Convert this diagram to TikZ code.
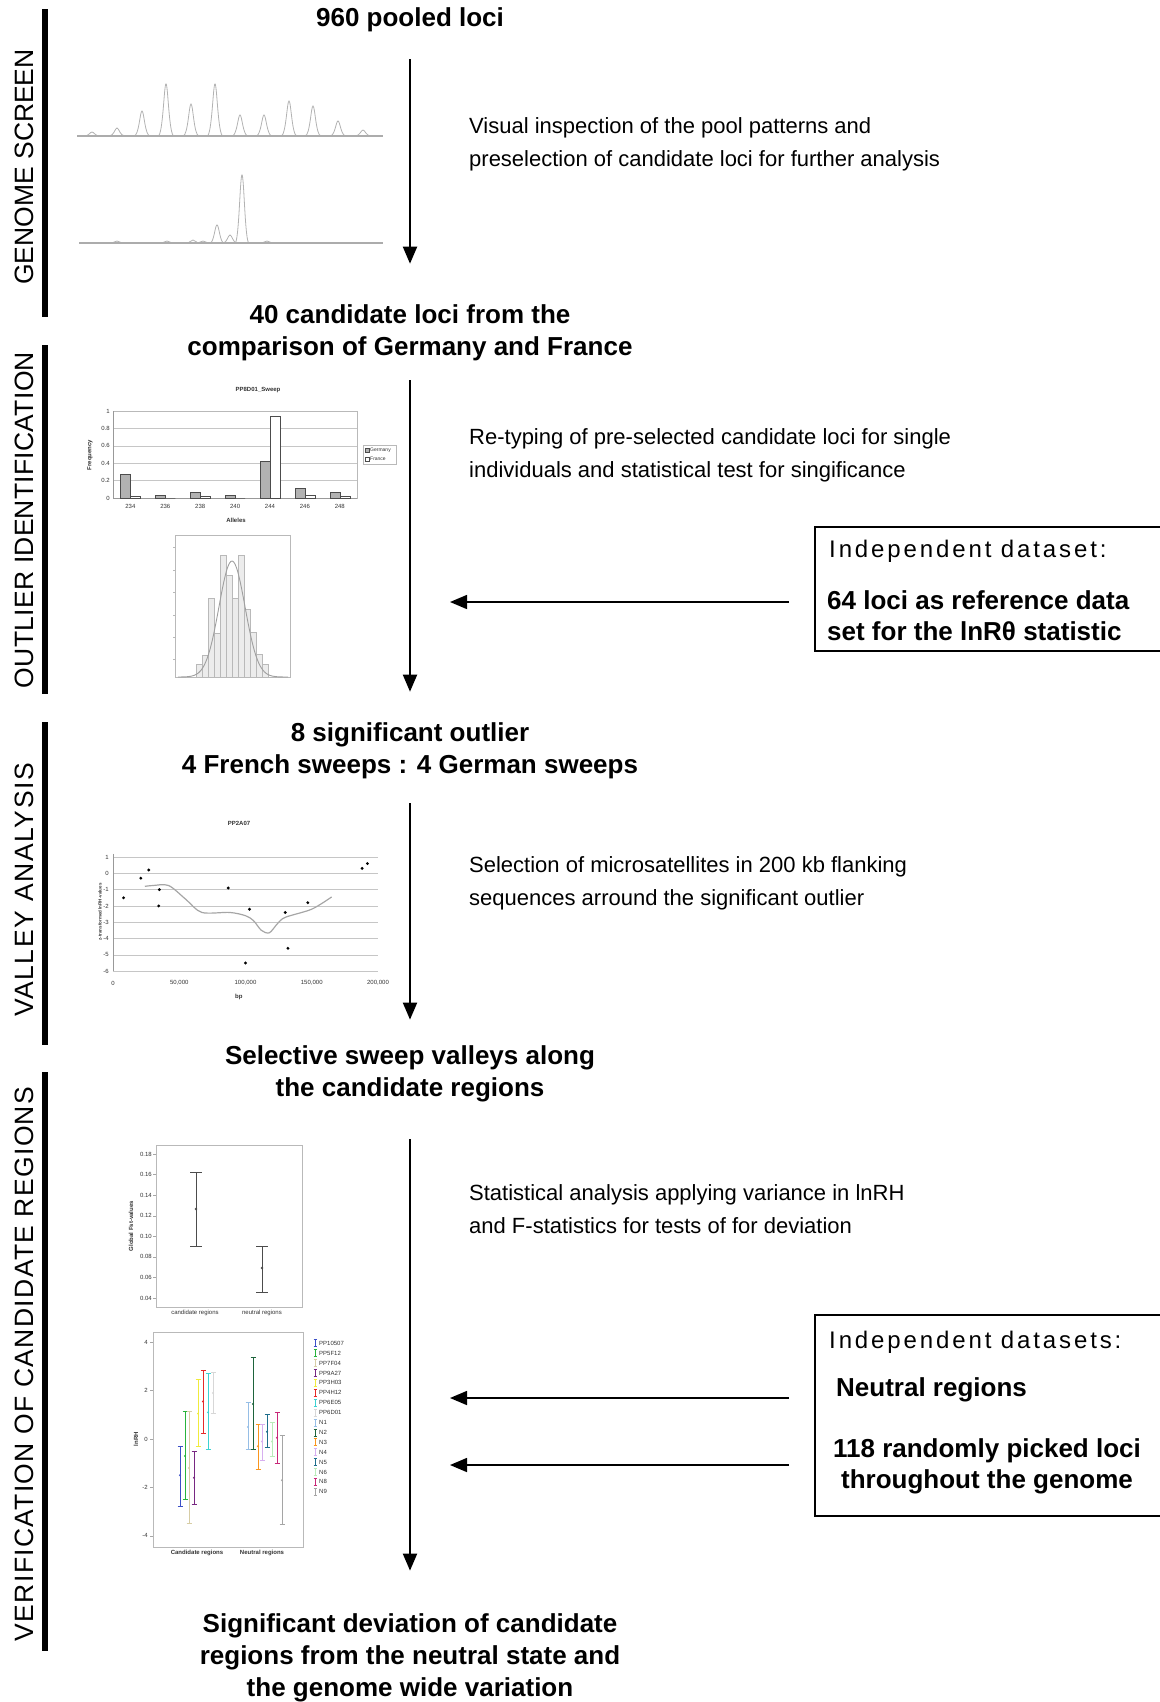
\documentclass[tikz,border=0pt]{standalone}
\usepackage{fontspec}
\setmainfont{Liberation Sans}
\usetikzlibrary{arrows.meta}

\definecolor{cA}{RGB}{60,80,200}
\definecolor{cB}{RGB}{40,180,60}
\definecolor{cC}{RGB}{215,205,165}
\definecolor{cD}{RGB}{120,40,130}
\definecolor{cE}{RGB}{240,235,60}
\definecolor{cF}{RGB}{230,40,40}
\definecolor{cG}{RGB}{60,210,210}
\definecolor{cH}{RGB}{215,215,215}
\definecolor{nA}{RGB}{150,190,230}
\definecolor{nB}{RGB}{30,100,60}
\definecolor{nC}{RGB}{250,150,30}
\definecolor{nD}{RGB}{215,175,240}
\definecolor{nE}{RGB}{30,110,140}
\definecolor{nF}{RGB}{185,235,185}
\definecolor{nG}{RGB}{200,40,120}
\definecolor{nH}{RGB}{165,165,165}

\tikzset{
  head/.style={font=\bfseries\fontsize{26bp}{32bp}\selectfont, align=center, inner sep=0pt},
  note/.style={font=\fontsize{22bp}{33bp}\selectfont, align=left, anchor=west, inner sep=0pt},
  phase/.style={font=\fontsize{26.5bp}{27bp}\selectfont\addfontfeatures{LetterSpace=#1}, rotate=90, inner sep=0pt},
  phase/.default=0,
  boxtxt/.style={font=\fontsize{24bp}{30bp}\selectfont\addfontfeatures{LetterSpace=12}, anchor=west, inner sep=0pt},
  boxbold/.style={font=\bfseries\fontsize{26bp}{31bp}\selectfont, inner sep=0pt},
  flow/.style={-{Triangle[length=17bp,width=14bp]}, line width=2bp},
  feed/.style={-{Triangle[length=17bp,width=14bp]}, line width=1.5bp},
  trace/.style={gray!60, line width=0.8bp},
  chartlbl/.style={font=\fontsize{6bp}{7bp}\selectfont, inner sep=0pt, text=black!80},
  chartbold/.style={font=\bfseries\fontsize{6bp}{7bp}\selectfont, inner sep=0pt, text=black!80},
  gridln/.style={gray!45, line width=0.5bp},
  frameln/.style={gray!55, line width=0.6bp},
  ebar/.style={black!70, line width=1bp},
}

\begin{document}
\begin{tikzpicture}[x=1bp,y=-1bp]
\useasboundingbox (0,0) rectangle (1159,1702);

% phase bars and labels
\foreach \a/\b in {9/317,345/694,722/1045,1072/1651}
  \fill (42,\a) rectangle (48,\b);
\node[phase] (p1) at (24,167) {GENOME SCREEN};
\node[phase=1] (p2) at (24,520) {OUTLIER IDENTIFICATION};
\node[phase=6] (p3) at (24,890) {VALLEY ANALYSIS};
\node[phase=5] (p4) at (24,1364) {VERIFICATION OF CANDIDATE REGIONS};

% stages
\node[head] (s0) at (410,20) {960 pooled loci};
\node[head] (s1) at (410,333) {40 candidate loci from the\\comparison of Germany and France};
\node[head] (s2) at (410,751) {8 significant outlier\\4 French sweeps : 4 German sweeps};
\node[head] (s3) at (410,1074) {Selective sweep valleys along\\the candidate regions};
\node[head] (s4) at (410,1658) {Significant deviation of candidate\\regions from the neutral state and\\the genome wide variation};

\draw[flow, shorten <=27bp, shorten >=41bp] (s0.south) -- (s1.north);
\draw[flow, shorten <=19bp, shorten >=31bp] (s1.south) -- (s2.north);
\draw[flow, shorten <=24bp, shorten >=26bp] (s2.south) -- (s3.north);
\draw[flow, shorten <=37bp, shorten >=43bp] (s3.south) -- (s4.north);

% descriptions
\node[note] (t1) at (469,144.5) {Visual inspection of the pool patterns and\\preselection of candidate loci for further analysis};
\node[note] (t2) at (469,455.5) {Re-typing of pre-selected candidate loci for single\\individuals and statistical test for singificance};
\node[note] (t3) at (469,883) {Selection of microsatellites in 200 kb flanking\\sequences arround the significant outlier};
\node[note] (t4) at (469,1209.5) {Statistical analysis applying variance in lnRH\\and F-statistics for tests of for deviation};

% independent data
\draw[line width=1.2bp] (815,527) rectangle (1165,651);
\node[boxtxt] (ind1) at (829,551) {Independent dataset:};
\node[boxbold, align=left, anchor=west] (ref) at (827,616) {64 loci as reference data\\set for the lnRθ statistic};
\coordinate (in1) at (789,602);
\draw[feed, shorten >=40bp] (in1) -- (in1 -| s1);

\draw[line width=1.2bp] (815,1315) rectangle (1165,1516);
\node[boxtxt] (ind2) at (829,1342) {Independent datasets:};
\node[boxbold, anchor=west] (neut) at (836,1390) {Neutral regions};
\node[boxbold, align=center] (rand) at (987,1466) {118 randomly picked loci\\throughout the genome};
\coordinate (in2) at (789,1398);
\coordinate (in3) at (789,1465);
\draw[feed, shorten >=40bp] (in2) -- (in2 -| s3);
\draw[feed, shorten >=40bp] (in3) -- (in3 -| s3);

% pool patterns
\foreach \px/\h in {92/4,117/8,142/25,166/52,191/32,215/52,240/21,264/21,289/35,313/30,338/15,363/6}
  \draw[trace] (\px-8,136) .. controls (\px-3,136) and (\px-2,136-\h) .. (\px,136-\h) .. controls (\px+2,136-\h) and (\px+3,136) .. (\px+8,136);
\draw[gray!65, line width=2.5bp] (77,136) -- (383,136);
\foreach \px/\h in {117/2,167/2,193/3,203/2,217/18,230/8,242/68,267/2}
  \draw[trace] (\px-7,243) .. controls (\px-3,243) and (\px-2,243-\h) .. (\px,243-\h) .. controls (\px+2,243-\h) and (\px+3,243) .. (\px+7,243);
\draw[gray!65, line width=2.5bp] (79,243) -- (383,243);

% allele frequencies
\node[chartbold] at (258,390) {PP8D01\_Sweep};
\foreach \y in {411,428.4,445.8,463.2,480.6}
  \draw[gridln] (113,\y) -- (357,\y);
\draw[frameln] (113,411) rectangle (357,498);
\draw[gray!80, line width=0.6bp] (113,411) -- (113,498) -- (357,498);
\foreach \v in {0,0.2,0.4,0.6,0.8,1}
  \node[chartlbl, anchor=east] at (110,498-87*\v) {\v};
\foreach \lab/\g/\f [count=\i from 0] in {234/0.27/0.02,236/0.03/0,238/0.07/0.02,240/0.03/0,244/0.42/0.94,246/0.11/0.03,248/0.07/0.02}{
  \pgfmathsetmacro\gx{130.4+34.9*\i}
  \draw[fill=gray!60, draw=black!70, line width=0.5bp] (\gx-10,498) rectangle (\gx,498-87*\g);
  \draw[fill=white, draw=black!70, line width=0.5bp] (\gx,498) rectangle (\gx+10,498-87*\f);
  \node[chartlbl] at (\gx,506) {\lab};
}
\node[chartbold] at (236,520) {Alleles};
\node[chartbold, rotate=90] at (90,455) {Frequency};
\draw[frameln] (363,445) rectangle (396,464);
\draw[fill=gray!60, draw=black!70, line width=0.4bp] (365,448) rectangle (369,452);
\node[chartlbl, anchor=west, font=\fontsize{5bp}{6bp}\selectfont] at (370,450) {Germany};
\draw[fill=white, draw=black!70, line width=0.4bp] (365,457) rectangle (369,461);
\node[chartlbl, anchor=west, font=\fontsize{5bp}{6bp}\selectfont] at (370,459) {France};

% null distribution
\draw[frameln] (175,535) rectangle (290,677);
\foreach \y in {547,570,592,615,637,659}
  \draw[gray!55] (173,\y) -- (175,\y);
\foreach \h [count=\i from 0] in {13,22,79,44,122,102,79,122,68,45,23,13}
  \draw[fill=gray!15, draw=gray!55, line width=0.5bp] (196.7+6*\i,677) rectangle (202.7+6*\i,677-\h);
\draw[gray!75, line width=0.9bp] plot[domain=178:288, samples=80, smooth] (\x,{677-116*exp(-0.5*((\x-232)/13)^2)});

% valley plot
\node[chartbold] at (239,823) {PP2A07};
\begin{scope}[shift={(113,873.3)}, x=1.325bp, y=16.3bp]
  \foreach \v in {1,0,...,-6}{
    \draw[gridln] (0,\v) -- (200,\v);
    \node[chartlbl, anchor=east] at (-3,\v) {\v};
  }
  \draw[gray!80, line width=0.6bp] (0,1.2) -- (0,-6);
  \foreach \k/\lab in {0/0,50/{50,000},100/{100,000},150/{150,000},200/{200,000}}
    \node[chartlbl] at (\k,-6.73) {\lab};
  \node[chartbold] at (95,-7.6) {bp};
  \foreach \p in {(8,-1.5),(21,-0.3),(27,0.2),(35,-1),(34.5,-2),(87,-0.9),(100,-5.5),(103,-2.2),(130,-2.4),(132,-4.6),(147,-1.8),(188,0.3),(192,0.6)}
    \fill \p circle (1.6bp);
  \draw[gray!70, line width=1.2bp] plot[smooth] coordinates {(24,-0.8) (30,-0.75) (42,-0.75) (55,-1.6) (67,-2.4) (88,-2.4) (100,-2.6) (106,-2.9) (112,-3.5) (118,-3.65) (124,-3.1) (130,-2.7) (150,-2.2) (165,-1.45)};
\end{scope}
\node[chartbold, rotate=90, font=\bfseries\fontsize{4.5bp}{5bp}\selectfont] at (100,912) {z-transformed lnRH-values};

% Fst comparison
\draw[frameln] (156,1145) rectangle (302,1307);
\foreach \y/\lab in {1154/0.18,1174.6/0.16,1195.1/0.14,1215.7/0.12,1236.3/0.10,1256.9/0.08,1277.4/0.06,1298/0.04}{
  \draw[gray!70] (153,\y) -- (156,\y);
  \node[chartlbl, anchor=east] at (152,\y) {\lab};
}
\foreach \x/\lo/\mn/\hi in {196/1246/1209/1172,262/1292/1268/1246}{
  \draw[ebar] (\x,\lo) -- (\x,\hi) (\x-6,\lo) -- (\x+6,\lo) (\x-6,\hi) -- (\x+6,\hi);
  \fill[black!70] (\x,\mn) circle (1.3bp);
}
\node[chartlbl] at (195,1313) {candidate regions};
\node[chartlbl] at (262,1313) {neutral regions};
\node[chartbold, rotate=90] at (131,1226) {Global Fst-values};

% lnRH per region
\draw[frameln] (153,1332) rectangle (303,1547);
\begin{scope}[shift={(0,1439)}, y=24.2bp]
  \foreach \v in {4,2,0,-2,-4}{
    \draw[gray!70] (150,\v) -- (153,\v);
    \node[chartlbl, anchor=east] at (148,\v) {\v};
  }
  \foreach \x/\mn/\lo/\hi/\col in {180/-1.5/-2.8/-0.3/cA,185/-0.7/-2.5/1.15/cB,189/-1.2/-3.5/1.15/cC,194/-1.6/-2.7/-0.5/cD,198/1.05/-0.3/2.45/cE,203/1.55/0.25/2.85/cF,208/1.1/-0.45/2.7/cG,213/1.9/1.05/2.75/cH,248/0.5/-0.45/1.5/nA,253/1.45/-0.45/3.35/nB,258/-0.3/-1.25/0.6/nC,262/-0.1/-0.9/0.6/nD,267/0.3/-0.35/1.0/nE,272/-0.1/-0.7/0.7/nF,277/0.05/-1.0/1.1/nG,282/-1.7/-3.55/0.15/nH}{
    \draw[\col, line width=0.9bp] (\x,\lo) -- (\x,\hi) (\x-2.5,\lo) -- (\x+2.5,\lo) (\x-2.5,\hi) -- (\x+2.5,\hi);
    \fill[\col] (\x,\mn) circle (1.1bp);
  }
\end{scope}
\foreach \lab/\col [count=\i from 0] in {PP10507/cA,PP5F12/cB,PP7F04/cC,PP9A27/cD,PP3H03/cE,PP4H12/cF,PP6E05/cG,PP6D01/cH,N1/nA,N2/nB,N3/nC,N4/nD,N5/nE,N6/nF,N8/nG,N9/nH}{
  \draw[\col, line width=0.8bp] (315,1339.8+9.9*\i) -- (315,1346.8+9.9*\i) (313.5,1339.8+9.9*\i) -- (316.5,1339.8+9.9*\i) (313.5,1346.8+9.9*\i) -- (316.5,1346.8+9.9*\i);
  \node[chartlbl, anchor=west] at (319,1343.3+9.9*\i) {\lab};
}
\node[chartbold, rotate=90] at (136,1439) {lnRH};
\node[chartbold] at (197,1553) {Candidate regions};
\node[chartbold] at (262,1553) {Neutral regions};
\end{tikzpicture}
\end{document}
